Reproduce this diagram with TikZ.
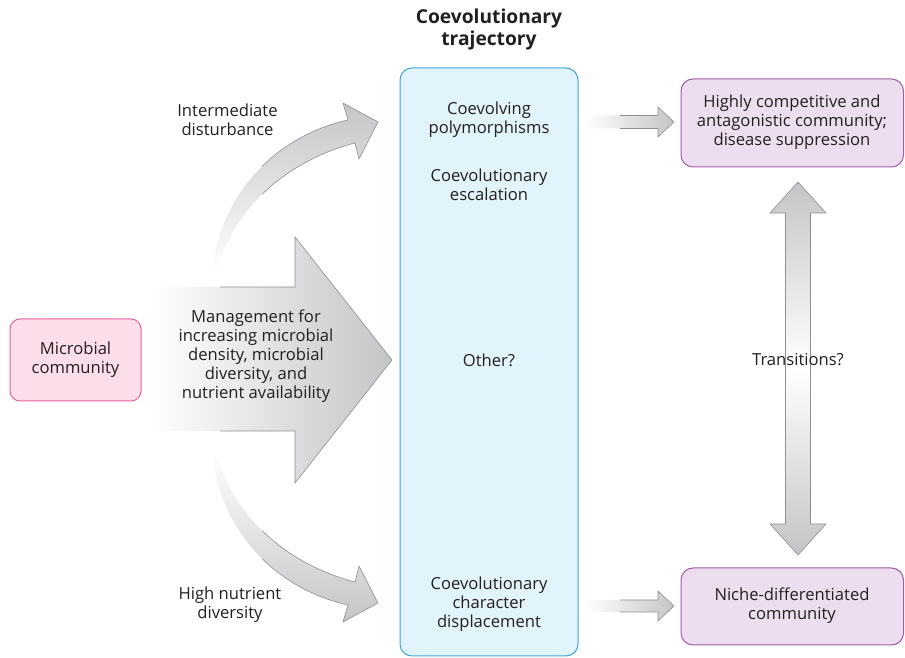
\documentclass[tikz,border=0pt]{standalone}
\usepackage{fontspec}
\setmainfont{Open Sans}
\definecolor{textc}{HTML}{231F20}
\definecolor{arrg}{HTML}{C4C5C7}
\definecolor{arre}{HTML}{8E8F91}
\definecolor{bluef}{HTML}{E1F3FB}
\definecolor{blued}{HTML}{3AA6DD}
\definecolor{purpf}{HTML}{ECDEEE}
\definecolor{purpd}{HTML}{A25BA8}
\definecolor{pinkf}{HTML}{FCDEEA}
\definecolor{pinkd}{HTML}{EC5FA0}
\begin{document}
\begin{tikzpicture}[x=1pt,y=1pt,
  txt/.style={font=\fontsize{16.6}{19}\selectfont, text=textc, align=center, inner sep=0pt},
  ttl/.style={font=\fontsize{19.2}{22}\selectfont\bfseries, text=textc, align=center, inner sep=0pt},
  arredge/.style={draw=arre, line width=0.6pt, line join=miter},
  pinkbox/.style={draw=pinkd, fill=pinkf, line width=1pt, rounded corners=10pt},
  purpbox/.style={draw=purpd, fill=purpf, line width=1pt, rounded corners=12pt},
  bluebox/.style={draw=blued, fill=bluef, line width=1pt, rounded corners=12pt}]
\useasboundingbox (0,0) rectangle (905,658);

% centre column
\draw[bluebox] (400,2) rectangle (578,590);

% right boxes
\draw[purpbox] (681,491) rectangle (903.5,579);
\draw[purpbox] (681,13) rectangle (903.5,90);

% left box
\draw[pinkbox] (10,257) rectangle (141,339);
\node[txt] (micro) at (75.5,298) {Microbial\\community};

% big arrow
\path[left color=white, right color=arrg, shading=axis]
  (150,227) -- (295,227) -- (295,175) -- (392,298) -- (295,421) -- (295,371) -- (150,371) -- cycle;
\draw[arredge] (220,371) -- (295,371) -- (295,421) -- (392,298) -- (295,175) -- (295,227) -- (220,227);
\node[txt] (mgmt) at (256,302) {Management for\\increasing microbial\\density, microbial\\diversity, and\\nutrient availability};

% upper curved arrow
\path[top color=arrg, middle color=arrg, bottom color=white]
  (212,385) .. controls (220,468) and (280,523) .. (348,538)
  -- (343,555) -- (378,536) -- (359,499) -- (355,515)
  .. controls (290,498) and (235,453) .. (217,388) -- cycle;
\begin{scope}
\clip (262,440) rectangle (400,600);
\draw[arredge]
  (212,385) .. controls (220,468) and (280,523) .. (348,538)
  -- (343,555) -- (378,536) -- (359,499) -- (355,515)
  .. controls (290,498) and (235,453) .. (217,388);
\end{scope}
\node[txt] (interm) at (227.5,538.5) {Intermediate\\disturbance};

% lower curved arrow
\path[bottom color=arrg, middle color=arrg, top color=white]
  (212,206) .. controls (220,123) and (280,68) .. (348,53)
  -- (343,36) -- (378,55) -- (359,92) -- (355,76)
  .. controls (290,93) and (235,138) .. (217,203) -- cycle;
\begin{scope}
\clip (262,20) rectangle (400,160);
\draw[arredge]
  (212,206) .. controls (220,123) and (280,68) .. (348,53)
  -- (343,36) -- (378,55) -- (359,92) -- (355,76)
  .. controls (290,93) and (235,138) .. (217,203);
\end{scope}
\node[txt] (highn) at (230,53.5) {High nutrient\\diversity};

% column texts
\node[ttl] (title) at (489,628) {Coevolutionary\\trajectory};
\node[txt] (poly) at (489,538.5) {Coevolving\\polymorphisms};
\node[txt] (esc) at (489,473.5) {Coevolutionary\\escalation};
\node[txt] (other) at (489,298) {Other?};
\node[txt] (disp) at (489,53.5) {Coevolutionary\\character\\displacement};

% small arrows to the right
\path[left color=white, right color=arrg]
  (585,529.5) -- (658,529.5) -- (658,521) -- (674,536) -- (658,551) -- (658,542.5) -- (585,542.5) -- cycle;
\draw[arredge] (620,542.5) -- (658,542.5) -- (658,551) -- (674,536) -- (658,521) -- (658,529.5) -- (620,529.5);
\path[left color=white, right color=arrg]
  (585,46) -- (658,46) -- (658,37) -- (674,52) -- (658,67) -- (658,58) -- (585,58) -- cycle;
\draw[arredge] (620,58) -- (658,58) -- (658,67) -- (674,52) -- (658,37) -- (658,46) -- (620,46);

% right box texts
\node[txt] (comp) at (792,536) {Highly competitive and\\antagonistic community;\\disease suppression};
\node[txt] (niche) at (792,52.5) {Niche-differentiated\\community};

% double arrow
\path[top color=arrg, bottom color=arrg, middle color=white]
  (785.5,134) -- (770,134) -- (798,103) -- (826,134) -- (810.5,134)
  -- (810.5,445) -- (826,445) -- (798,476) -- (770,445) -- (785.5,445) -- cycle;
\draw[arredge]
  (785.5,134) -- (770,134) -- (798,103) -- (826,134) -- (810.5,134)
  -- (810.5,445) -- (826,445) -- (798,476) -- (770,445) -- (785.5,445) -- cycle;
\node[txt] (trans) at (798,298) {Transitions?};
\end{tikzpicture}
\end{document}
